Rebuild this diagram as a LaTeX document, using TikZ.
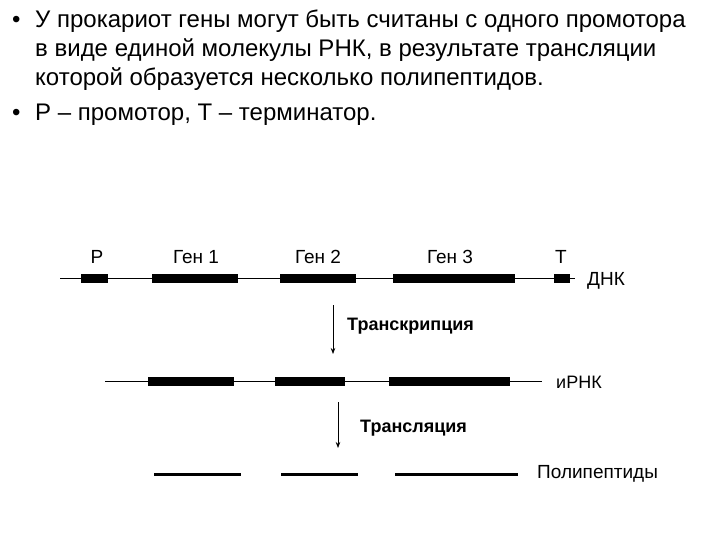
\documentclass[tikz,border=0pt]{standalone}
\usepackage{fontspec}
\setmainfont{Liberation Sans}
\usepackage{tikz}
\usetikzlibrary{arrows.meta}

\begin{document}
\begin{tikzpicture}[x=1pt,y=-1pt,
    strand/.style={line width=0.8pt},
    gene/.style={fill=black},
    peptide/.style={line width=3pt},
    label/.style={anchor=base,inner sep=0pt,font=\fontsize{19}{23}\selectfont},
    textline/.style={anchor=base west,inner sep=0pt,font=\fontsize{24}{29}\selectfont},
    process/.style={anchor=base west,inner sep=0pt,font=\fontsize{18}{22}\selectfont\bfseries},
    step arrow/.style={line width=0.7pt,-{Stealth[length=6pt,width=4.5pt]}}]
     \useasboundingbox (0,0) rectangle (720,540);
     % text
     \node[textline] (b1) at ( 12, 28) {•};
     \node[textline] (l1) at ( 35, 28) {У прокариот гены могут быть считаны с одного промотора};
     \node[textline] (l2) at ( 35, 57) {в виде единой молекулы РНК, в результате трансляции};
     \node[textline] (l3) at ( 35, 86) {которой образуется несколько полипептидов.};
     \node[textline] (b2) at ( 12,121) {•};
     \node[textline] (l4) at ( 35,121) {Р – промотор, Т – терминатор.};
     % DNA
     \draw[strand] ( 60,278) -- (575,278);
     \fill[gene] ( 81,273.5) rectangle (108,282.5);
     \fill[gene] (152,273.5) rectangle (238,282.5);
     \fill[gene] (280,273.5) rectangle (356,282.5);
     \fill[gene] (393,273.5) rectangle (515,282.5);
     \fill[gene] (554,273.5) rectangle (570,282.5);
     \node[label] (p)  at ( 97,263) {Р};
     \node[label] (g1) at (196,263) {Ген 1};
     \node[label] (g2) at (318,263) {Ген 2};
     \node[label] (g3) at (450,263) {Ген 3};
     \node[label] (t)  at (561,263) {Т};
     \node[label,anchor=base west] (dna) at (587,285) {ДНК};
     % transcription
     \coordinate (tr1) at (333,305);
     \coordinate (tr2) at (333,354);
     \draw[step arrow] (tr1) -- (tr2);
     \node[process] (trc) at (347,330) {Транскрипция};
     % mRNA
     \draw[strand] (105,381) -- (542,381);
     \fill[gene] (148,376.5) rectangle (234,385.5);
     \fill[gene] (275,376.5) rectangle (345,385.5);
     \fill[gene] (389,376.5) rectangle (510,385.5);
     \node[label,anchor=base west,font=\fontsize{18}{22}\selectfont] (rna) at (556,388) {иРНК};
     % translation
     \coordinate (ts1) at (338,402);
     \coordinate (ts2) at (338,448);
     \draw[step arrow] (ts1) -- (ts2);
     \node[process] (trl) at (360,432) {Трансляция};
     % polypeptides
     \draw[peptide] (154,474) -- (241,474);
     \draw[peptide] (281,474) -- (358,474);
     \draw[peptide] (395,474) -- (518,474);
     \node[label,anchor=base west] (pep) at (537,478) {Полипептиды};
    \end{tikzpicture}
\end{document}
